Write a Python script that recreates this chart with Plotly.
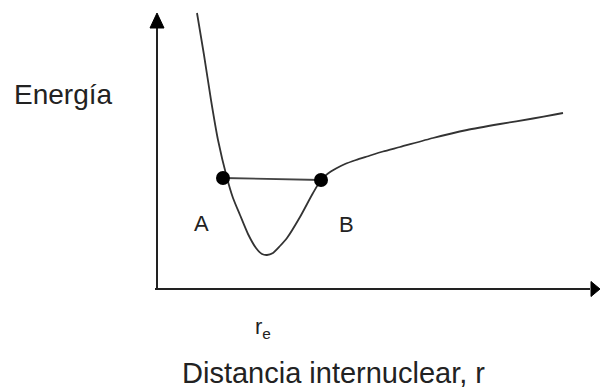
import plotly.graph_objects as go

# Potential energy curve: internuclear distance r vs energy (arbitrary units)
r_curve = [0.80, 0.94, 1.08, 1.22, 1.40, 1.52, 1.66, 1.82, 1.98, 2.10, 2.20, 2.32,
           2.46, 2.60, 2.86, 3.12, 3.28, 3.42, 3.58, 3.76, 3.98, 4.20, 4.52, 4.86,
           5.52, 6.20, 6.86, 7.52, 7.96, 8.12]
e_curve = [5.52, 4.68, 3.78, 2.98, 2.22, 1.82, 1.48, 1.10, 0.82, 0.70, 0.68, 0.72,
           0.86, 1.02, 1.44, 1.92, 2.18, 2.31, 2.41, 2.50, 2.58, 2.65, 2.75, 2.84,
           3.02, 3.18, 3.30, 3.41, 3.49, 3.52]

# Turning points A and B joined by a level line
point_r = [1.32, 3.28]
point_e = [2.22, 2.18]
point_names = ["A", "B"]
label_r = [0.88, 3.78]
label_e = [1.32, 1.30]

# Equilibrium distance marker
r_eq = 2.12

# Axis extents
x_min, x_max = -3.14, 8.86
y_min, y_max = -2.0, 5.78
axis_top = 5.52
axis_right = 8.86

ink = "#222222"
font = "Liberation Sans, Arial, sans-serif"

fig = go.Figure()

fig.add_trace(go.Scatter(
    x=r_curve, y=e_curve, mode="lines",
    line=dict(color="#333333", width=1.8, shape="spline", smoothing=0.6),
    hoverinfo="skip", showlegend=False,
))

fig.add_trace(go.Scatter(
    x=point_r, y=point_e, mode="lines+markers",
    line=dict(color="#444444", width=1.8),
    marker=dict(color="#000000", size=14),
    hoverinfo="skip", showlegend=False,
))

# Axes drawn as lines with triangular arrowheads
px = (x_max - x_min) / 600.0
py = (y_max - y_min) / 389.0
shapes = [
    dict(type="line", x0=-0.04, y0=0, x1=axis_right - 10 * px, y1=0,
         line=dict(color=ink, width=2)),
    dict(type="line", x0=0, y0=0, x1=0, y1=axis_top - 10 * py,
         line=dict(color=ink, width=2)),
    dict(type="path",
         path=f"M {-7*px} {axis_top - 15*py} L {7*px} {axis_top - 15*py} L 0 {axis_top} Z",
         fillcolor="#000000", line=dict(color="#000000", width=1)),
    dict(type="path",
         path=f"M {axis_right - 9*px} {-7.5*py} L {axis_right - 9*px} {7.5*py} L {axis_right} 0 Z",
         fillcolor="#000000", line=dict(color="#000000", width=1)),
]

annotations = [
    dict(x=-2.90, y=3.90, text="Energía", showarrow=False, xanchor="left",
         yanchor="middle", font=dict(family=font, size=28, color=ink)),
    dict(x=3.52, y=-1.68, text="Distancia internuclear, r", showarrow=False,
         xanchor="center", yanchor="middle", font=dict(family=font, size=29, color=ink)),
    dict(x=r_eq, y=-0.78, text="r<sub>e</sub>", showarrow=False,
         xanchor="center", yanchor="middle", font=dict(family=font, size=22, color=ink)),
]
for name, lx, ly in zip(point_names, label_r, label_e):
    annotations.append(dict(x=lx, y=ly, text=name, showarrow=False,
                            xanchor="center", yanchor="middle",
                            font=dict(family=font, size=22, color=ink)))

fig.update_layout(
    width=600, height=389,
    margin=dict(l=0, r=0, t=0, b=0),
    paper_bgcolor="white", plot_bgcolor="white",
    xaxis=dict(range=[x_min, x_max], visible=False, fixedrange=True),
    yaxis=dict(range=[y_min, y_max], visible=False, fixedrange=True),
    shapes=shapes, annotations=annotations,
)

fig.write_html("out.html")
